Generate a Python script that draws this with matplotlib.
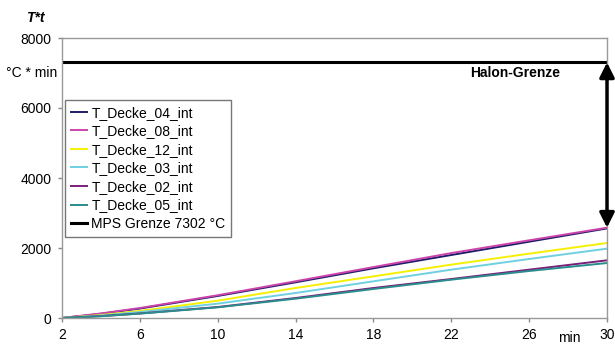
import matplotlib.pyplot as plt

plt.rcParams["font.family"] = ["Liberation Sans", "DejaVu Sans"]

minutes = [2, 4, 6, 10, 14, 18, 22, 26, 30]
t_decke_04 = [0, 120, 270, 630, 1020, 1420, 1800, 2180, 2560]
t_decke_08 = [0, 130, 285, 650, 1050, 1455, 1855, 2220, 2580]
t_decke_12 = [0, 85, 200, 495, 857, 1190, 1524, 1838, 2143]
t_decke_03 = [0, 70, 170, 410, 714, 1048, 1381, 1686, 1981]
t_decke_02 = [0, 55, 130, 314, 571, 857, 1114, 1381, 1648]
t_decke_05 = [0, 50, 125, 305, 552, 829, 1095, 1343, 1571]
mps_grenze = 7302

series = [
    ("T_Decke_04_int", t_decke_04, "#1c1c6b"),
    ("T_Decke_08_int", t_decke_08, "#cc44aa"),
    ("T_Decke_12_int", t_decke_12, "#f5f000"),
    ("T_Decke_03_int", t_decke_03, "#6fd0e0"),
    ("T_Decke_02_int", t_decke_02, "#7a1f7a"),
    ("T_Decke_05_int", t_decke_05, "#2a8c8c"),
]

fig = plt.figure(figsize=(6.15, 3.44), dpi=100)
ax = fig.add_axes([62 / 615, 26 / 344, 545 / 615, 280 / 344])

for name, vals, col in series:
    ax.plot(minutes, vals, color=col, lw=1.4, label=name)
ax.plot([minutes[0], minutes[-1]], [mps_grenze, mps_grenze], color="black",
        lw=2.2, label="MPS Grenze 7302 °C")

ax.set_xlim(2, 30)
ax.set_ylim(0, 8000)
ax.set_xticks(range(2, 31, 4))
ax.set_yticks(range(0, 8001, 2000))
ax.tick_params(axis="both", labelsize=10, color="#888888", length=3, width=1)
ax.tick_params(axis="y", pad=4.5)
ax.tick_params(axis="x", pad=4.5)
for s in ax.spines.values():
    s.set_color("#999999")
    s.set_linewidth(1)

# arrow between top of curves and the limit
ax.annotate("", xy=(30, mps_grenze), xytext=(30, t_decke_08[-1]),
            arrowprops=dict(arrowstyle="<|-|>", color="black", lw=2.5,
                            mutation_scale=22, shrinkA=0, shrinkB=0),
            annotation_clip=False)
ax.text(25.3, 7000, "Halon-Grenze", fontsize=10, fontweight="bold",
        ha="center", va="center")

fig.text(35 / 615, 1 - 18 / 344, "T*t", fontsize=10, fontweight="bold",
         fontstyle="italic", ha="center", va="center")
fig.text(32 / 615, 1 - 73 / 344, "°C * min", fontsize=10, ha="center",
         va="center")
fig.text(569 / 615, 1 - 338 / 344, "min", fontsize=10, ha="center",
         va="center")

leg = ax.legend(loc="upper left", bbox_to_anchor=(3 / 545, 218 / 280),
                fontsize=10, frameon=True, fancybox=False, handlelength=1.2,
                handletextpad=0.3, borderpad=0.4, labelspacing=0.33,
                borderaxespad=0)
leg.get_frame().set_edgecolor("#555555")
leg.get_frame().set_linewidth(1)

fig.savefig("out.png", dpi=100)
